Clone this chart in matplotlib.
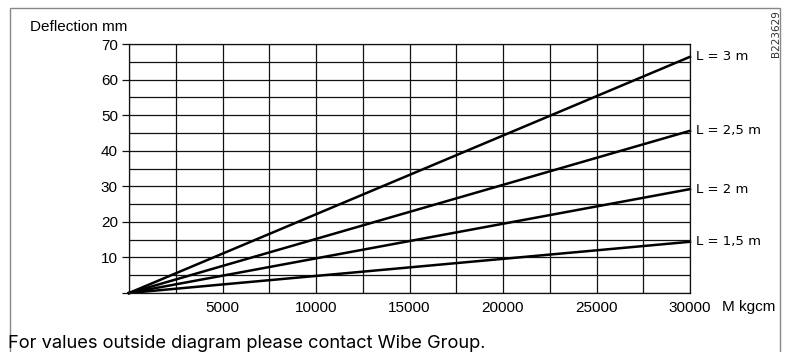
import matplotlib
matplotlib.use("Agg")
import matplotlib.pyplot as plt
from matplotlib.ticker import MultipleLocator
from matplotlib.patches import Rectangle

# moment M (kgcm) at the two ends of each line
moment = [0, 30000]
# deflection (mm), per beam length
defl_3m = [0, 66.4]
defl_2_5m = [0, 45.6]
defl_2m = [0, 29.2]
defl_1_5m = [0, 14.4]
line_labels = ["L = 3 m", "L = 2,5 m", "L = 2 m", "L = 1,5 m"]

xtick_vals = [5000, 10000, 15000, 20000, 25000, 30000]
ytick_vals = [0, 10, 20, 30, 40, 50, 60, 70]

W, H = 787, 352
fig = plt.figure(figsize=(W / 100, H / 100), dpi=100)
ax = fig.add_axes([129 / W, 1 - 293 / H, (690 - 129) / W, (293 - 44) / H])

main_font = ["Liberation Sans", "DejaVu Sans"]
narrow_font = ["Liberation Sans Narrow", "DejaVu Sans"]

ax.set_xlim(0, 30000)
ax.set_ylim(0, 70)
ax.xaxis.set_major_locator(MultipleLocator(5000))
ax.xaxis.set_minor_locator(MultipleLocator(2500))
ax.yaxis.set_major_locator(MultipleLocator(10))
ax.yaxis.set_minor_locator(MultipleLocator(5))
ax.grid(which="both", color="#111111", linewidth=0.9)
ax.set_axisbelow(True)
for sp in ax.spines.values():
    sp.set_color("#111111")
    sp.set_linewidth(0.9)

ax.set_xticks([0] + xtick_vals)
ax.set_xticklabels([""] + [str(v) for v in xtick_vals], fontfamily=main_font, fontsize=11)
ax.set_yticks(ytick_vals)
ax.set_yticklabels([""] + [str(v) for v in ytick_vals[1:]], fontfamily=main_font, fontsize=11)
ax.tick_params(axis="x", which="major", length=0, pad=5.5)
ax.tick_params(axis="y", which="major", length=5, width=0.9, pad=3, color="#111111")
ax.tick_params(which="minor", length=0)

series = [defl_3m, defl_2_5m, defl_2m, defl_1_5m]
for vals, lab in zip(series, line_labels):
    ax.plot(moment, vals, color="black", linewidth=1.8, clip_on=False)
    ax.annotate(lab, xy=(moment[-1], vals[-1]), xytext=(6, 0),
                textcoords="offset pixels", va="center", ha="left",
                fontsize=9.5, fontfamily=narrow_font)

fig.text(30 / W, 1 - 27 / H, "Deflection mm", ha="left", va="center",
         fontsize=11, fontfamily=main_font)

ax.annotate("M kgcm", xy=(1, 0), xycoords="axes fraction", xytext=(32, -14),
            textcoords="offset pixels", ha="left", va="center",
            fontsize=11, fontfamily=main_font)

fig.text(781 / W, 1 - 34 / H, "B223629", rotation=90, ha="right", va="center",
         fontsize=7.5, fontfamily=["DejaVu Sans"], color="#333333")

fig.patches.append(Rectangle((10 / W, -0.1), (780 - 10) / W, 1.1 - 8 / H,
                             transform=fig.transFigure, fill=False,
                             edgecolor="#888888", linewidth=1.0))

fig.text(8 / W, 1 - 343 / H, "For values outside diagram please contact Wibe Group.",
         ha="left", va="center", fontsize=13.2, fontfamily=["Inter", "DejaVu Sans"])

fig.savefig("out.png", dpi=100)
